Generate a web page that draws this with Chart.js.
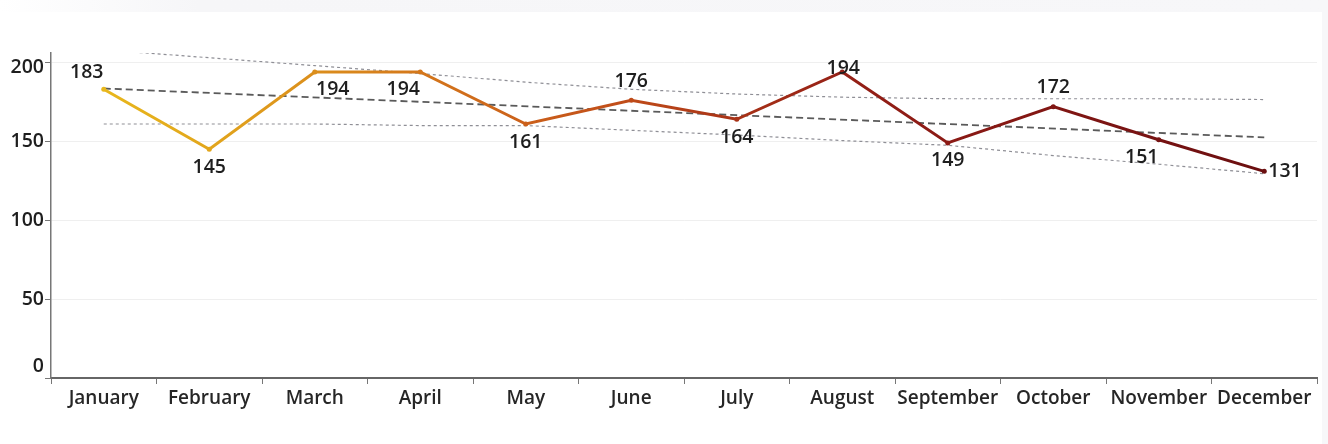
<!DOCTYPE html>
<html>
<head>
<meta charset="utf-8">
<script src="https://cdn.jsdelivr.net/npm/chart.js@4"></script>
<style>
  html, body { margin: 0; padding: 0; background: #fff; }
  #topband { position: absolute; left: 0; top: 0; width: 1328px; height: 12px;
    background: linear-gradient(to right, #fff 0%, #f6f6f8 15%, #f7f7f9 100%); }
  #rightband { position: absolute; right: 0; top: 12px; width: 6px; height: 432px; background: #f7f7f9; }
  #wrap { position: absolute; left: 0; top: 0; width: 1328px; height: 444px; }
</style>
</head>
<body>
<div id="topband"></div>
<div id="rightband"></div>
<div id="wrap"><canvas id="chart" width="1328" height="444"></canvas></div>
<script>
const months = ["January", "February", "March", "April", "May", "June",
                "July", "August", "September", "October", "November", "December"];
const sales = [183, 145, 194, 194, 161, 176, 164, 194, 149, 172, 151, 131];
const trend = [183.5, null, null, null, null, null, null, null, null, null, null, 152.5];
const upperBand = [208, 203, 198, 193, 187.5, 183, 180, 178, 177, 177, 177, 176.5];
const lowerBand = [161, 161, 161, 160, 160, 157, 154, 150.5, 147.5, 141, 135.5, 129.5];
const yTicks = [0, 50, 100, 150, 200];

// label placement around each point
const labelPos = ["nw", "s", "se", "sw", "s", "n", "s", "c", "s", "n", "sw", "e"];
const pointColors = ["#e8b71c", "#e2a61c", "#db8e1c", "#d4771b", "#cb601a", "#bf4b19",
                     "#a83217", "#952016", "#8b1a15", "#811613", "#761212", "#6a0e0f"];

const labelFont = "600 19.5px 'Open Sans'";
const offsets = {
  n: [0, -19, "center"], s: [0, 18, "center"], c: [1, -3, "center"],
  nw: [-17, -17, "center"], se: [18, 18, "center"], sw: [-17, 18, "center"],
  e: [4, 0, "left"]
};

const labelPlugin = {
  id: "pointLabels",
  afterDatasetsDraw(chart) {
    const ctx = chart.ctx;
    const meta = chart.getDatasetMeta(0);
    ctx.save();
    ctx.font = labelFont;
    ctx.fillStyle = "#1e1e1e";
    ctx.textBaseline = "middle";
    meta.data.forEach((pt, i) => {
      const o = offsets[labelPos[i]];
      ctx.textAlign = o[2];
      ctx.fillText(String(sales[i]), pt.x + o[0], pt.y + o[1]);
    });
    // y axis labels, the end ones nudged inside like the original
    const y = chart.scales.y;
    ctx.textAlign = "right";
    yTicks.forEach(v => {
      let py = y.getPixelForValue(v);
      if (v === yTicks[0]) py -= 12;
      if (v === yTicks[yTicks.length - 1]) py += 5;
      ctx.fillText(String(v), y.right - 7, py);
    });
    ctx.restore();
  }
};

function lineGradient(context) {
  const chart = context.chart;
  const area = chart.chartArea;
  if (!area) return pointColors[0];
  const xs = chart.scales.x;
  const x0 = xs.getPixelForValue(0);
  const x1 = xs.getPixelForValue(months.length - 1);
  const g = chart.ctx.createLinearGradient(x0, 0, x1, 0);
  pointColors.forEach((c, i) => g.addColorStop(i / (pointColors.length - 1), c));
  return g;
}

new Chart(document.getElementById("chart"), {
  type: "line",
  data: {
    labels: months,
    datasets: [
      {
        label: "Sales",
        data: sales,
        borderColor: lineGradient,
        borderWidth: 3,
        pointRadius: 2.5,
        pointBackgroundColor: pointColors,
        pointBorderColor: pointColors,
        pointBorderWidth: 0,
        tension: 0
      },
      {
        label: "Trend",
        data: trend,
        spanGaps: true,
        borderColor: "#5a5a5a",
        borderWidth: 1.8,
        borderDash: [7, 4],
        pointRadius: 0
      },
      {
        label: "Upper",
        data: upperBand,
        borderColor: "#8f8f96",
        borderWidth: 1.2,
        borderDash: [3, 3],
        pointRadius: 0
      },
      {
        label: "Lower",
        data: lowerBand,
        borderColor: "#8f8f96",
        borderWidth: 1.2,
        borderDash: [3, 3],
        pointRadius: 0
      }
    ]
  },
  options: {
    responsive: false,
    animation: false,
    layout: { padding: { left: 0, right: 11, top: 53, bottom: 0 } },
    plugins: { legend: { display: false }, tooltip: { enabled: false } },
    scales: {
      x: {
        type: "category",
        offset: true,
        grid: { offset: true, drawOnChartArea: false, drawTicks: true, tickLength: 6, color: "#777" },
        border: { color: "#666", width: 2 },
        ticks: { color: "#262626", font: { family: "'Open Sans'", size: 19, weight: "600" }, padding: 3, maxRotation: 0, autoSkip: false },
        afterFit(scale) { scale.height = 66; }
      },
      y: {
        min: 0,
        max: 206,
        grid: { color: "#efefef", drawTicks: true, tickLength: 6, tickColor: "#777" },
        border: { color: "#777", width: 1.5 },
        ticks: { display: false },
        afterBuildTicks(scale) { scale.ticks = yTicks.map(v => ({ value: v })); },
        afterFit(scale) { scale.width = 51; }
      }
    }
  },
  plugins: [labelPlugin]
});
</script>
</body>
</html>
